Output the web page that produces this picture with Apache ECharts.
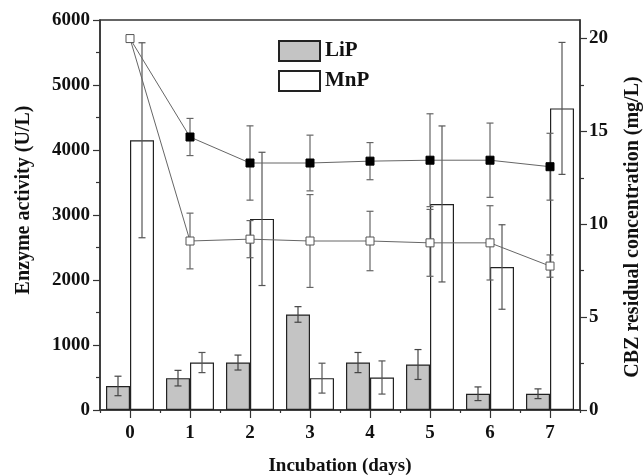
<!DOCTYPE html>
<html>
<head>
<meta charset="utf-8">
<script src="https://cdn.jsdelivr.net/npm/echarts@6/dist/echarts.min.js"></script>
<style>
html,body{margin:0;padding:0;background:#fff;}
#chart{width:643px;height:475px;}
</style>
</head>
<body>
<div id="chart"></div>
<script>
// ---- data ----
const days = ['0', '1', '2', '3', '4', '5', '6', '7'];
const lipValues = [370, 490, 730, 1470, 730, 700, 250, 250];
const lipErr = [150, 120, 115, 120, 155, 230, 105, 75];
const mnpValues = [4150, 730, 2940, 490, 500, 3170, 2200, 4640];
const mnpErr = [1500, 155, 1025, 230, 255, 1200, 650, 1015];
const cbzFilled = [20, 14.7, 13.3, 13.3, 13.4, 13.45, 13.45, 13.1];
const cbzFilledErr = [0, 1.0, 2.0, 1.5, 1.0, 2.5, 2.0, 1.8];
const cbzOpen = [20, 9.1, 9.2, 9.1, 9.1, 9.0, 9.0, 7.75];
const cbzOpenErr = [0, 1.5, 1.0, 2.5, 1.6, 1.8, 2.0, 0.6];
const leftTicks = [0, 1000, 2000, 3000, 4000, 5000, 6000];
const rightTicks = [0, 5, 10, 15, 20];

const FONT = '"Liberation Serif", "Times New Roman", serif';

function errSeries(name, vals, errs, offsetFrac, yIdx, color, z) {
  return {
    type: 'custom',
    name: name,
    yAxisIndex: yIdx,
    z: z,
    silent: true,
    data: vals.map((v, i) => [i, v, errs[i]]),
    renderItem: function (params, api) {
      const i = api.value(0), v = api.value(1), e = api.value(2);
      if (!e) return null;
      const band = api.size([1, 0])[0];
      const off = band * offsetFrac;
      const top = api.coord([i, v + e]);
      const bot = api.coord([i, v - e]);
      const x = top[0] + off;
      const cap = 3.5;
      const st = { stroke: color, lineWidth: 1.2 };
      return {
        type: 'group',
        children: [
          { type: 'line', shape: { x1: x, y1: top[1], x2: x, y2: bot[1] }, style: st },
          { type: 'line', shape: { x1: x - cap, y1: top[1], x2: x + cap, y2: top[1] }, style: st },
          { type: 'line', shape: { x1: x - cap, y1: bot[1], x2: x + cap, y2: bot[1] }, style: st }
        ]
      };
    }
  };
}

const chart = echarts.init(document.getElementById('chart'), null, { renderer: 'canvas' });
const option = {
  backgroundColor: '#fff',
  animation: false,
  textStyle: { fontFamily: FONT },
  grid: {
    left: 100, right: 63, top: 20, bottom: 65,
    outerBoundsMode: 'none',
    containLabel: false,
    show: true, borderColor: '#333', borderWidth: 1.5, backgroundColor: 'transparent'
  },
  legend: {
    orient: 'vertical',
    left: 278, top: 40,
    padding: 0,
    itemWidth: 41, itemHeight: 20, itemGap: 8,
    icon: 'rect',
    data: ['LiP', 'MnP'],
    textStyle: { fontFamily: FONT, fontWeight: 'bold', fontSize: 21, color: '#111' }
  },
  xAxis: [
    {
      type: 'category',
      data: days,
      name: 'Incubation (days)',
      nameLocation: 'middle',
      nameGap: 47,
      nameTextStyle: { fontFamily: FONT, fontWeight: 'bold', fontSize: 19, color: '#111' },
      axisLine: { lineStyle: { color: '#333', width: 1.5 } },
      axisTick: { show: true, length: 3, inside: false, lineStyle: { color: '#333', width: 1.2 } },
      axisLabel: { fontFamily: FONT, fontWeight: 'bold', fontSize: 19, color: '#111', margin: 14 },
      splitLine: { show: false }
    },
    {
      type: 'category',
      data: days,
      position: 'bottom',
      axisLine: { show: false },
      axisTick: { show: true, alignWithLabel: true, length: 8, lineStyle: { color: '#333', width: 1.2 } },
      axisLabel: { show: false },
      splitLine: { show: false }
    }
  ],
  yAxis: [
    {
      type: 'value',
      min: 0, max: 6000, interval: 1000,
      name: 'Enzyme activity (U/L)',
      nameLocation: 'middle',
      nameGap: 66,
      nameTextStyle: { fontFamily: FONT, fontWeight: 'bold', fontSize: 20, color: '#111', padding: [0, 0, 0, 30] },
      axisLine: { show: true, lineStyle: { color: '#333', width: 1.5 } },
      axisTick: { show: true, length: 7, lineStyle: { color: '#333', width: 1.2 } },
      minorTick: { show: true, splitNumber: 2, length: 4, lineStyle: { color: '#333', width: 1.2 } },
      axisLabel: {
        fontFamily: FONT, fontWeight: 'bold', fontSize: 19, color: '#111', margin: 10,
        customValues: leftTicks, formatter: v => String(v)
      },
      splitLine: { show: false }
    },
    {
      type: 'value',
      min: 0, max: 21, interval: 5,
      position: 'right',
      name: 'CBZ residual concentration (mg/L)',
      nameLocation: 'middle',
      nameGap: 43,
      nameTextStyle: { fontFamily: FONT, fontWeight: 'bold', fontSize: 20, color: '#111', padding: [0, 24, 0, 0] },
      axisLine: { show: true, lineStyle: { color: '#333', width: 1.5 } },
      axisTick: { show: true, length: 7, lineStyle: { color: '#333', width: 1.2 }, customValues: rightTicks },
      minorTick: { show: true, splitNumber: 2, length: 4, lineStyle: { color: '#333', width: 1.2 } },
      axisLabel: {
        fontFamily: FONT, fontWeight: 'bold', fontSize: 19, color: '#111', margin: 9,
        customValues: rightTicks, formatter: v => String(v)
      },
      splitLine: { show: false }
    }
  ],
  series: [
    {
      name: 'LiP', type: 'bar', data: lipValues,
      barWidth: 24, barGap: '0%', z: 2,
      itemStyle: { color: '#c4c4c4', borderColor: '#222', borderWidth: 1.2 }
    },
    {
      name: 'MnP', type: 'bar', data: mnpValues,
      barWidth: 24, barGap: '0%', z: 2,
      itemStyle: { color: '#ffffff', borderColor: '#222', borderWidth: 1.2 }
    },
    errSeries('LiP error', lipValues, lipErr, -0.2, 0, '#444', 3),
    errSeries('MnP error', mnpValues, mnpErr, 0.2, 0, '#555', 3),
    errSeries('CBZ filled error', cbzFilled, cbzFilledErr, 0, 1, '#666', 4),
    errSeries('CBZ open error', cbzOpen, cbzOpenErr, 0, 1, '#666', 4),
    {
      name: 'CBZ (filled)', type: 'line', yAxisIndex: 1, z: 5,
      data: cbzFilled.map((v, i) => i === 0 ? { value: v, symbol: 'none' } : v),
      symbol: 'rect', symbolSize: 8,
      lineStyle: { color: '#666', width: 1 },
      itemStyle: { color: '#000', borderColor: '#000', borderWidth: 1 }
    },
    {
      name: 'CBZ (open)', type: 'line', yAxisIndex: 1, z: 6,
      data: cbzOpen,
      symbol: 'rect', symbolSize: 8,
      lineStyle: { color: '#666', width: 1 },
      itemStyle: { color: '#fff', borderColor: '#555', borderWidth: 1 }
    }
  ]
};
chart.setOption(option);
</script>
</body>
</html>
